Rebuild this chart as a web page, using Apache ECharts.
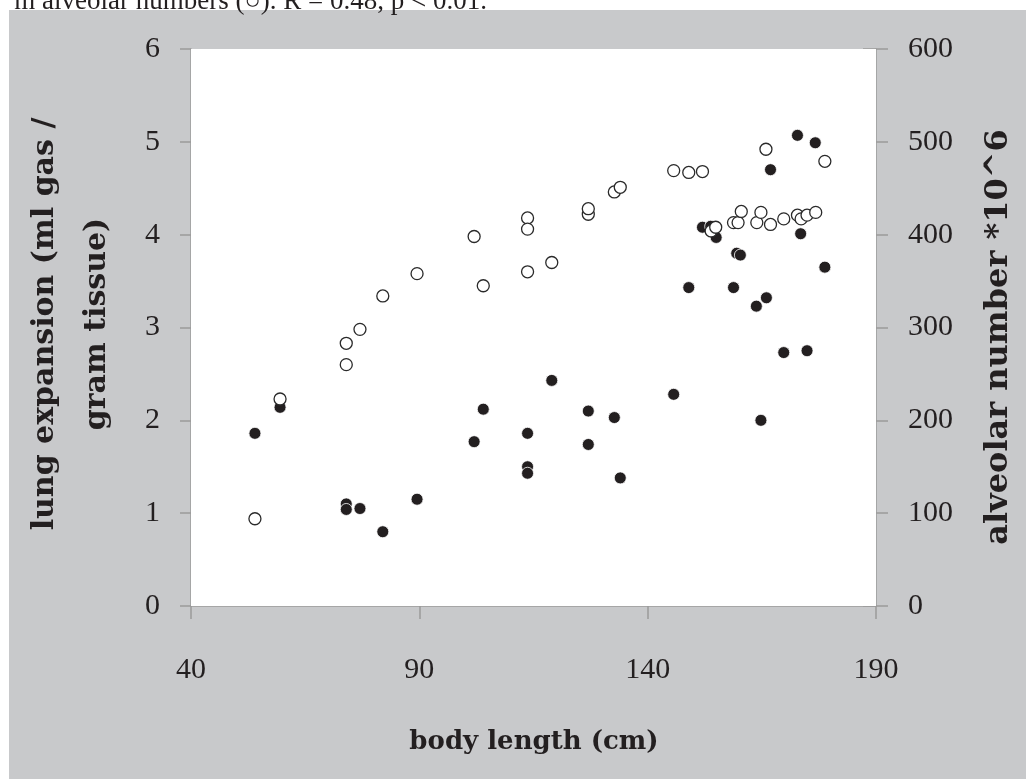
<!DOCTYPE html>
<html>
<head>
<meta charset="utf-8">
<script src="https://cdn.jsdelivr.net/npm/echarts@6/dist/echarts.min.js"></script>
<style>
html,body{margin:0;padding:0;background:#fff;}
#chart{width:1026px;height:779px;}
</style>
</head>
<body>
<div id="chart"></div>
<script>
// Body length (cm) shared by both measurements
const bodyLength = [54, 59.5, 74, 74, 77, 82, 89.5, 102, 104, 113.7, 113.7, 113.7, 119, 127, 127, 132.7, 134, 145.7, 149, 152, 153.8, 155, 158.8, 159.5, 160.3, 163.8, 164.8, 166, 166.9, 169.8, 172.8, 173.5, 174.9, 176.7, 178.8];
// Lung expansion (ml gas / gram tissue) — filled circles, left axis
const lungExpansion = [1.86, 2.14, 1.10, 1.04, 1.05, 0.80, 1.15, 1.77, 2.12, 1.86, 1.50, 1.43, 2.43, 2.10, 1.74, 2.03, 1.38, 2.28, 3.43, 4.08, 4.09, 3.97, 3.43, 3.80, 3.78, 3.23, 2.00, 3.32, 4.70, 2.73, 5.07, 4.01, 2.75, 4.99, 3.65];
// Body length for alveolar numbers
const bodyLengthAlv = [54, 59.5, 74, 74, 77, 82, 89.5, 102, 104, 113.7, 113.7, 113.7, 119, 127, 127, 132.7, 134, 145.7, 149, 152, 153.9, 154.9, 158.8, 159.8, 160.5, 163.9, 164.8, 165.9, 166.9, 169.8, 172.8, 173.6, 174.9, 176.8, 178.8];
// Alveolar number *10^6 — open circles, right axis
const alveolarNumber = [94, 223, 260, 283, 298, 334, 358, 398, 345, 418, 406, 360, 370, 422, 428, 446, 451, 469, 467, 468, 404, 408, 413, 413, 425, 413, 424, 492, 411, 417, 421, 417, 421, 424, 479];

const xTitle = 'body length (cm)';
const yLeftTitle = 'lung expansion (ml gas /\ngram tissue)';
const yRightTitle = 'alveolar number *10^6';
const caption = 'm alveolar numbers (○). R = 0.48, p < 0.01.';

const lungData = bodyLength.map((x, i) => [x, lungExpansion[i]]);
const alvData = bodyLengthAlv.map((x, i) => [x, alveolarNumber[i]]);

const chart = echarts.init(document.getElementById('chart'), null, {renderer: 'canvas'});
const tickFont = {fontFamily: 'Liberation Serif', fontSize: 30, color: '#231f20'};
const axisGrey = '#9a9a9a';

chart.setOption({
  animation: false,
  backgroundColor: '#ffffff',
  grid: {left: 191, right: 150, top: 49, bottom: 173, show: true, backgroundColor: '#ffffff', borderWidth: 0, z: 2},
  graphic: [
    {type: 'rect', z: -10, shape: {x: 9, y: 10, width: 1017, height: 769}, style: {fill: '#c8c9cb'}},
    {type: 'text', x: 487, y: 15, style: {text: caption, font: '27px "Liberation Serif"', fill: '#231f20', textAlign: 'right', textVerticalAlign: 'bottom'}},
    {type: 'text', x: 71, y: 324, rotation: Math.PI / 2, style: {text: yLeftTitle, font: 'bold 30px "DejaVu Serif"', lineHeight: 52, fill: '#231f20', textAlign: 'center', textVerticalAlign: 'middle'}},
    {type: 'text', x: 999, y: 337, rotation: Math.PI / 2, style: {text: yRightTitle, font: 'bold 32px "DejaVu Serif"', fill: '#231f20', textAlign: 'center', textVerticalAlign: 'middle'}},
    {type: 'text', x: 534, y: 742, style: {text: xTitle, font: 'bold 26px "DejaVu Serif"', fill: '#231f20', textAlign: 'center', textVerticalAlign: 'middle'}}
  ],
  xAxis: {
    type: 'value', min: 40, max: 190, interval: 50,
    axisLine: {show: true, lineStyle: {color: axisGrey, width: 1.5}},
    axisTick: {show: true, inside: false, length: 13, lineStyle: {color: axisGrey, width: 1.5}},
    axisLabel: Object.assign({margin: 49}, tickFont),
    splitLine: {show: false}
  },
  yAxis: [
    {
      type: 'value', min: 0, max: 6, interval: 1, position: 'left',
      axisLine: {show: true, lineStyle: {color: axisGrey, width: 1.5}},
      axisTick: {show: true, inside: false, length: 11, lineStyle: {color: axisGrey, width: 1.5}},
      axisLabel: Object.assign({margin: 31}, tickFont),
      splitLine: {show: false}
    },
    {
      type: 'value', min: 0, max: 600, interval: 100, position: 'right',
      axisLine: {show: true, lineStyle: {color: axisGrey, width: 1.5}},
      axisTick: {show: true, inside: false, length: 12, lineStyle: {color: axisGrey, width: 1.5}},
      axisLabel: Object.assign({margin: 32}, tickFont),
      splitLine: {show: false}
    },
    {
      type: 'value', min: 0, max: 600, interval: 100, position: 'right',
      axisLine: {show: false},
      axisTick: {show: true, inside: true, length: 13, lineStyle: {color: axisGrey, width: 1.5}},
      axisLabel: {show: false},
      splitLine: {show: false}
    }
  ],
  series: [
    {
      type: 'scatter', name: 'lung expansion', yAxisIndex: 0, data: lungData,
      symbol: 'circle', symbolSize: 12,
      itemStyle: {color: '#231f20', borderColor: '#ffffff', borderWidth: 0.8, opacity: 1},
      z: 3
    },
    {
      type: 'scatter', name: 'alveolar number', yAxisIndex: 1, data: alvData,
      symbol: 'circle', symbolSize: 12,
      itemStyle: {color: '#ffffff', borderColor: '#2a2a2a', borderWidth: 1.3, opacity: 1},
      z: 4
    }
  ]
});
</script>
</body>
</html>
